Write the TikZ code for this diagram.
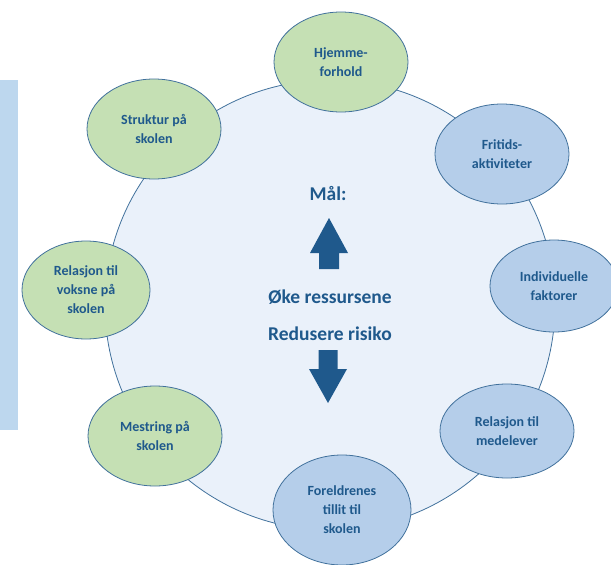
\documentclass[tikz,border=0pt]{standalone}
\usepackage{fontspec}
\setmainfont{Carlito}
\usetikzlibrary{shapes.geometric,positioning}

\definecolor{rimblue}{RGB}{65,113,156}
\definecolor{textblue}{RGB}{31,89,140}
\definecolor{leafgreen}{RGB}{197,224,180}
\definecolor{skyblue}{RGB}{181,206,234}
\definecolor{paleblue}{RGB}{234,241,250}
\definecolor{barblue}{RGB}{189,215,238}

\begin{document}
\begin{tikzpicture}
	[
		x=1pt, y=-1pt,
		factornode/.style={ellipse, draw=rimblue, thick, inner sep=0pt, text=textblue, align=center,
			font=\bfseries\fontsize{14}{19}\selectfont, minimum width=134pt, minimum height=100pt},
		greennode/.style={factornode, fill=leafgreen},
		bluenode/.style={factornode, fill=skyblue},
		goalnode/.style={text=textblue, font=\bfseries\fontsize{19.5}{22}\selectfont},
		bigarrow/.style={fill=textblue},
	]

	\useasboundingbox (0,0) rectangle (611,565);

	\node[fill=barblue, minimum width=18pt, minimum height=350pt, inner sep=0pt] (bar) at (9,255) {};
	\node[circle, draw=rimblue, fill=paleblue, thick, minimum size=450pt, inner sep=0pt] (hub) at (330,305) {};

	% the eight factors round the circle
	\node[greennode] (home) at (341,62) {Hjemme-\\forhold};
	\node[bluenode] (leisure) at (502,154) {Fritids-\\aktiviteter};
	\node[bluenode, minimum width=128pt, minimum height=92pt] (individual) at (554,286) {Individuelle\\faktorer};
	\node[bluenode, minimum height=94pt] (peers) at (507,431) {Relasjon til\\medelever};
	\node[bluenode, minimum width=138pt, minimum height=110pt] (parents) at (342,510) {Foreldrenes\\tillit til\\skolen};
	\node[greennode] (mastery) at (155,436) {Mestring på\\skolen};
	\node[greennode, minimum width=128pt, minimum height=98pt] (adults) at (86,290) {Relasjon til\\voksne på\\skolen};
	\node[greennode] (structure) at (154,129) {Struktur på\\skolen};

	% goals in the middle
	\node[goalnode] (goal) at (328,194) {Mål:};
	\node[goalnode] (raise) at (330,297) {Øke ressursene};
	\node[goalnode] (lower) at (330,334) {Redusere risiko};

	\coordinate (uptip) at (329,218);
	\coordinate (downtip) at (328,403);
	\fill[bigarrow] (uptip) -- ++(19,35) -- ++(-9,0) -- ++(0,16) -- ++(-20,0) -- ++(0,-16) -- ++(-9,0) -- cycle;
	\fill[bigarrow] (downtip) -- ++(19,-34) -- ++(-9.5,0) -- ++(0,-19) -- ++(-19,0) -- ++(0,19) -- ++(-9.5,0) -- cycle;

\end{tikzpicture}
\end{document}
